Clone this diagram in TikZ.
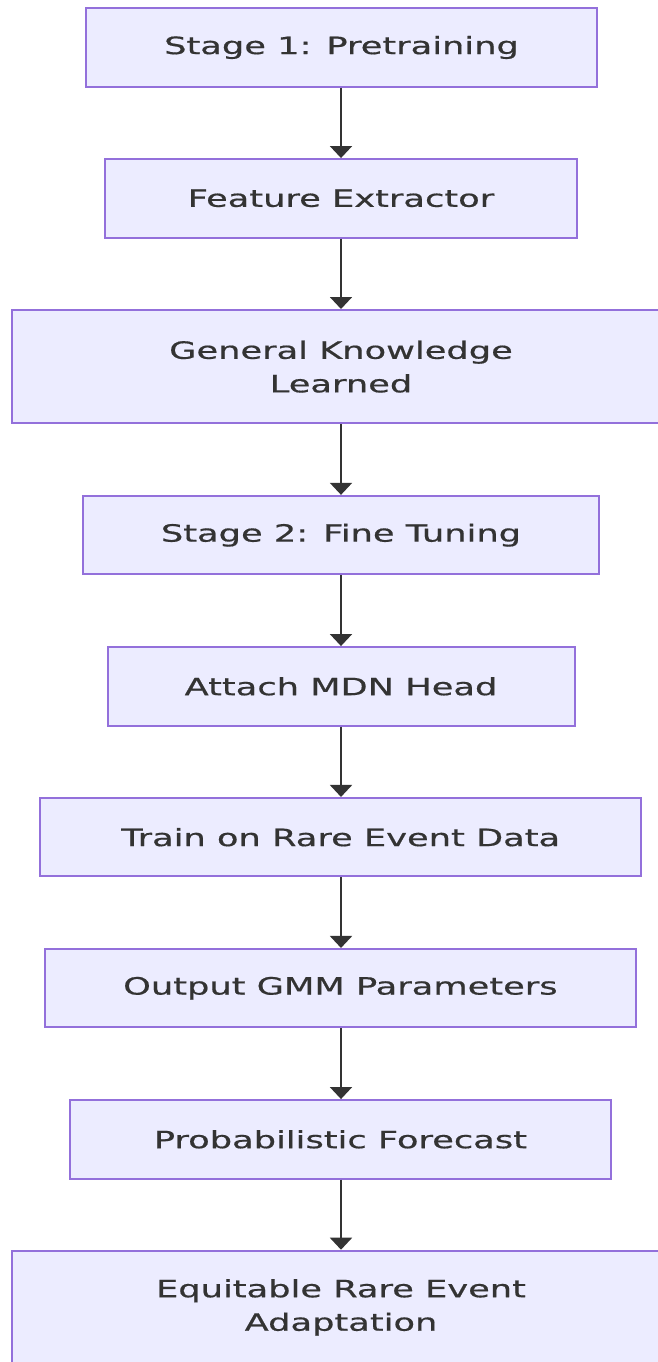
\documentclass[tikz,border=0pt]{standalone}
\usepackage{fontspec}
\setmainfont{DejaVu Sans}[FakeStretch=1.48, FakeBold=0.6]
\usetikzlibrary{arrows.meta}
\definecolor{boxfill}{HTML}{ECECFF}
\definecolor{boxline}{HTML}{9370DB}
\definecolor{ink}{HTML}{333333}
\tikzset{
  stepbox/.style={rectangle, draw=boxline, fill=boxfill, line width=2pt,
    minimum height=78.5pt, inner sep=0pt, align=center, text=ink,
    font=\fontsize{23.8}{33.5}\selectfont},
  tallbox/.style={stepbox, minimum height=113.4pt},
  flow/.style={draw=ink, line width=2pt, -{Triangle[width=22pt,length=12pt]}}
}
\begin{document}
\begin{tikzpicture}[x=1pt, y=-1pt]
  \clip (0,0) rectangle (658,1362);
  \fill[white] (0,0) rectangle (658,1362);

  \node[stepbox, minimum width=511pt] (s1) at (341.5,47.5) {Stage 1: Pretraining};
  \node[stepbox, minimum width=472pt] (fe) at (341,198.3) {Feature Extractor};
  \node[tallbox, minimum width=657.4pt] (gk) at (341,366.7) {General Knowledge\\Learned};
  \node[stepbox, minimum width=516pt] (s2) at (341,535.1) {Stage 2: Fine Tuning};
  \node[stepbox, minimum width=467pt] (mdn) at (341,686.3) {Attach MDN Head};
  \node[stepbox, minimum width=601pt] (tr) at (340.7,837.2) {Train on Rare Event Data};
  \node[stepbox, minimum width=591pt] (gmm) at (340.4,988.2) {Output GMM Parameters};
  \node[stepbox, minimum width=541pt] (pf) at (340.4,1139.3) {Probabilistic Forecast};
  \node[tallbox, minimum width=657.4pt] (eq) at (341,1307.4) {Equitable Rare Event\\Adaptation};

  \draw[flow] (s1.south -| mdn.south) -- (mdn.south |- fe.north);
  \draw[flow] (fe.south) -- (gk.north);
  \draw[flow] (gk.south) -- (s2.north);
  \draw[flow] (s2.south) -- (mdn.north);
  \draw[flow] (mdn.south) -- (mdn.south |- tr.north);
  \draw[flow] (tr.south -| mdn.south) -- (mdn.south |- gmm.north);
  \draw[flow] (gmm.south -| mdn.south) -- (mdn.south |- pf.north);
  \draw[flow] (pf.south -| mdn.south) -- (mdn.south |- eq.north);
\end{tikzpicture}
\end{document}
